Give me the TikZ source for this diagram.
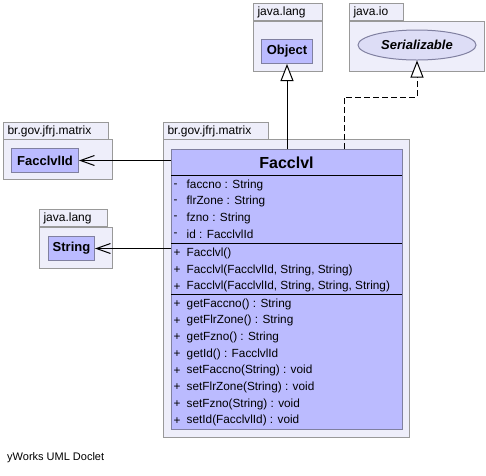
\documentclass[tikz,border=0pt]{standalone}
\usepackage{fontspec}
\setmainfont{Liberation Sans}
\usetikzlibrary{arrows.meta, positioning, shapes.geometric}

\definecolor{pkgfill}{HTML}{EEEEFA}
\definecolor{pkgline}{HTML}{999999}
\definecolor{classfill}{HTML}{BBBBFF}
\definecolor{classline}{HTML}{8080A0}
\definecolor{ifacefill}{HTML}{DDDDF6}

\tikzset{
  pkgtab/.style={draw=pkgline, fill=pkgfill, line width=1pt, anchor=north west,
    minimum height=17pt, inner xsep=4pt, inner ysep=0pt, align=left,
    font=\fontsize{12}{14}\selectfont},
  pkgbody/.style={draw=pkgline, fill=pkgfill, line width=1pt, anchor=north west, inner sep=0pt},
  classbox/.style={draw=classline, fill=classfill, line width=1pt, anchor=north west, inner sep=0pt},
  refbox/.style={draw=classline, fill=classfill, line width=1pt, anchor=north west, inner sep=0pt,
    font=\fontsize{13}{15}\selectfont\bfseries},
  member/.style={anchor=west, inner sep=0pt, font=\fontsize{11.8}{13}\selectfont},
  dep/.style={draw, line width=1pt, -{Straight Barb[length=14pt, width=10pt, line width=1pt]}},
  inherit/.style={draw, line width=1pt, -{Triangle[length=17pt, width=13pt, fill=white, line width=1pt]}},
  realize/.style={inherit, dash pattern=on 6pt off 3pt}
}

\begin{document}
\begin{tikzpicture}[x=1pt, y=-1pt]
    \useasboundingbox (0,0) rectangle (486,475);

    % packages
    \node[pkgbody, minimum width=246pt, minimum height=298pt] (mainpkg) at (163,139) {};
    \node[pkgtab, text width=97pt, minimum width=105pt] (maintab) at (163,122) {br.gov.jfrj.matrix};
    \node[pkgbody, minimum width=109pt, minimum height=40pt] (idpkg) at (3,139) {};
    \node[pkgtab, text width=97pt, minimum width=105pt] (idtab) at (3,122) {br.gov.jfrj.matrix};
    \node[pkgbody, minimum width=73pt, minimum height=41pt] (strpkg) at (39,227) {};
    \node[pkgtab, text width=60pt, minimum width=68pt] (strtab) at (39,209) {java.lang};
    \node[pkgbody, minimum width=69pt, minimum height=50pt] (objpkg) at (253,21) {};
    \node[pkgtab, text width=61pt, minimum width=69pt] (objtab) at (253,3) {java.lang};
    \node[pkgbody, minimum width=135pt, minimum height=50pt] (iopkg) at (349,21) {};
    \node[pkgtab, text width=46pt, minimum width=54pt] (iotab) at (349,3) {java.io};

    % referenced types
    \node[refbox, minimum width=67pt, minimum height=24pt] (facclvlid) at (11,148) {FacclvlId};
    \node[refbox, minimum width=46pt, minimum height=24pt] (string) at (48,236) {String};
    \node[refbox, minimum width=51pt, minimum height=24pt] (object) at (261,39) {Object};
    \node[ellipse, draw=classline, fill=ifacefill, line width=1pt, minimum width=118pt,
      minimum height=30pt, inner sep=0pt, font=\fontsize{13}{15}\selectfont\bfseries\itshape]
      (serial) at (417,45) {Serializable};

    % the class
    \node[classbox, minimum width=231pt, minimum height=280pt] (facclvl) at (171,149) {};
    \node[font=\fontsize{16}{18}\selectfont\bfseries, inner sep=0pt] (title) at (286.5,162.5) {Facclvl};
    \draw[line width=1pt] (171,175) -- (402,175);
    \draw[line width=1pt] (171,243) -- (402,243);
    \draw[line width=1pt] (171,294) -- (402,294);

    \foreach \y/\v/\t [count=\i] in {
        185.7/-/faccno : String, 201.5/-/flrZone : String, 218/-/fzno : String,
        234.7/-/id : FacclvlId,
        253.3/+/Facclvl(), 270/+/{Facclvl(FacclvlId, String, String)},
        286.7/+/{Facclvl(FacclvlId, String, String, String)},
        304/+/getFaccno() : String, 320.7/+/getFlrZone() : String,
        337.5/+/getFzno() : String, 354.2/+/getId() : FacclvlId,
        370.7/+/setFaccno(String) : void, 387.5/+/setFlrZone(String) : void,
        404/+/setFzno(String) : void, 420.7/+/setId(FacclvlId) : void}
    {
        \node[member] (vis\i) at (173.5,\y) {\v};
        \node[member] (mem\i) at (186.5,\y) {\t};
    }

    % connectors
    \path[dep] (facclvl.west |- facclvlid.east) -- (facclvlid.east);
    \path[dep] (facclvl.west |- string.east) -- (string.east);
    \path[inherit] (facclvl.north) -- (object.south);
    \coordinate (realstart) at (344,149);
    \coordinate (realbend) at (344,97);
    \path[realize] (realstart) -- (realbend) -| (serial.south);

    \node[anchor=west, inner sep=0pt, font=\fontsize{11}{13}\selectfont] (doclet) at (7,458) {yWorks UML Doclet};
\end{tikzpicture}
\end{document}
